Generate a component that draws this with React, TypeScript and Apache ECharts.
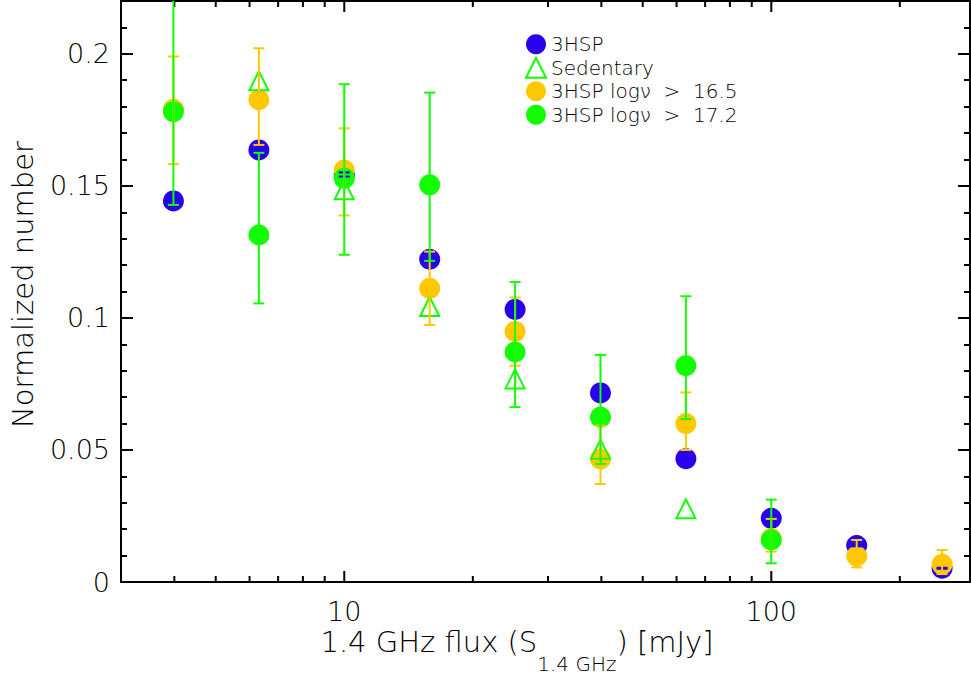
import React, { useEffect, useRef } from "react";
import * as echarts from "echarts";

// Bin centres (1.4 GHz flux, mJy)
const bins = [3.98, 6.31, 10, 15.85, 25.12, 39.81, 63.1, 100, 158.5, 251.2];

// 3HSP (blue)
const hsp = [0.1443, 0.1636, 0.1543, 0.1222, 0.1032, 0.0716, 0.0467, 0.0241, 0.0138, 0.0052];
const hspErr = [0.001, 0.001, 0.0008, 0.0008, 0.0007, 0.0006, 0.0005, 0.0004, 0.0003, 0.0002];

// Sedentary (green open triangles)
const sedentary = [null, 0.1898, 0.1485, 0.1043, 0.0769, 0.0503, 0.0277, null, null, null];

// 3HSP log nu > 16.5 (orange)
const hsp165 = [0.179, 0.1826, 0.156, 0.1112, 0.0949, 0.0466, 0.06, 0.0165, 0.0098, 0.0067];
const hsp165Hi = [0.199, 0.2021, 0.1718, 0.1251, 0.1077, 0.0592, 0.0718, 0.0239, 0.0159, 0.0121];
const hsp165Lo = [0.1582, 0.1655, 0.1388, 0.0973, 0.0819, 0.0371, 0.05, 0.0115, 0.0055, 0.003];

// 3HSP log nu > 17.2 (green)
const hsp172 = [0.1781, 0.1314, 0.1529, 0.1504, 0.0871, 0.0624, 0.0819, 0.0159, null, null];
const hsp172Hi = [0.222, 0.1625, 0.1885, 0.1853, 0.1136, 0.086, 0.1082, 0.0312, null, null];
const hsp172Lo = [0.1428, 0.1055, 0.1239, 0.1216, 0.0662, 0.0447, 0.0617, 0.0071, null, null];

// Axis ticks
const xMajorTicks = [10, 100];
const xMinorTicks = [4, 5, 6, 7, 8, 9, 20, 30, 40, 50, 60, 70, 80, 90, 200];
const yTicks = [0, 0.05, 0.1, 0.15, 0.2];

const names = ["3HSP", "Sedentary", "3HSP log\u03BD  >  16.5", "3HSP log\u03BD  >  17.2"];
const xTitleParts = ["1.4 GHz flux (S", "1.4 GHz", ") [mJy]"];

const BLUE = "#2800ee";
const ORANGE = "#ffc800";
const GREEN = "#11ff00";
const FONT = "'DejaVu Sans', sans-serif";
const FW = 300;

const X_MIN = 3;
const X_MAX = 292;
const Y_MIN = 0;
const Y_MAX = 0.22;

function pts(vals: (number | null)[]) {
  const out: number[][] = [];
  vals.forEach((v, i) => {
    if (v !== null) out.push([bins[i], v]);
  });
  return out;
}

function errs(lo: (number | null)[], hi: (number | null)[]) {
  const out: number[][] = [];
  lo.forEach((l, i) => {
    const h = hi[i];
    if (l !== null && h !== null) out.push([bins[i], l, h]);
  });
  return out;
}

function errRender(color: string) {
  return (params: any, api: any) => {
    const x = api.value(0);
    const lo = api.value(1);
    const hi = api.value(2);
    const hiC = Math.min(hi, Y_MAX);
    const p1 = api.coord([x, hiC]);
    const p2 = api.coord([x, lo]);
    const w = 5.5;
    const style = { stroke: color, lineWidth: 2 };
    const children: any[] = [
      { type: "line", shape: { x1: p1[0], y1: p1[1], x2: p2[0], y2: p2[1] }, style },
      { type: "line", shape: { x1: p2[0] - w, y1: p2[1], x2: p2[0] + w, y2: p2[1] }, style },
    ];
    if (hi <= Y_MAX) {
      children.push({ type: "line", shape: { x1: p1[0] - w, y1: p1[1], x2: p1[0] + w, y2: p1[1] }, style });
    }
    return { type: "group", children };
  };
}

function tickRender(params: any, api: any) {
  const x = api.value(0);
  const major = api.value(1) === 1;
  const len = major ? 11 : 6;
  const b = api.coord([x, Y_MIN]);
  const t = api.coord([x, Y_MAX]);
  const style = { stroke: "#000", lineWidth: 2 };
  return {
    type: "group",
    children: [
      { type: "line", shape: { x1: b[0], y1: b[1], x2: b[0], y2: b[1] - len }, style },
      { type: "line", shape: { x1: t[0], y1: t[1], x2: t[0], y2: t[1] + len }, style },
    ],
  };
}

function measure(text: string, size: number) {
  const c = document.createElement("canvas").getContext("2d");
  if (!c) return text.length * size * 0.6;
  c.font = `${FW} ${size}px ${FONT}`;
  return c.measureText(text).width;
}

export default function App() {
  const ref = useRef<HTMLDivElement>(null);
  useEffect(() => {
    if (!ref.current) return;
    const chart = echarts.init(ref.current, null, { renderer: "svg" });
    const axisLine = { show: true, onZero: false, lineStyle: { color: "#000", width: 2 } };
    const tickData = [
      ...xMajorTicks.map((v) => [v, 1]),
      ...xMinorTicks.map((v) => [v, 0]),
    ];

    // x-axis title with subscript, laid out from measured widths
    const MAIN = 29;
    const SUB = 20;
    const w1 = measure(xTitleParts[0], MAIN);
    const w2 = measure(xTitleParts[1], SUB);
    const w3 = measure(xTitleParts[2], MAIN);
    const cx = 517;
    const x0 = cx - (w1 + w2 + w3) / 2;
    const mainY = 642;
    const subY = 664;
    const tStyle = (text: string, size: number) => ({
      text,
      fill: "#000",
      font: `${FW} ${size}px ${FONT}`,
      verticalAlign: "middle",
      align: "left",
    });

    const option: any = {
      animation: false,
      backgroundColor: "#fff",
      grid: { left: 121, right: 1, top: 1, bottom: 97, containLabel: false, outerBoundsMode: "none" },
      graphic: [
        { type: "text", x: x0, y: mainY, style: tStyle(xTitleParts[0], MAIN), silent: true },
        { type: "text", x: x0 + w1, y: subY, style: tStyle(xTitleParts[1], SUB), silent: true },
        { type: "text", x: x0 + w1 + w2, y: mainY, style: tStyle(xTitleParts[2], MAIN), silent: true },
      ],
      legend: {
        orient: "vertical",
        left: 525,
        top: 32.5,
        padding: 0,
        itemWidth: 20,
        itemHeight: 20,
        itemGap: 0,
        selectedMode: false,
        data: names,
        textStyle: {
          fontSize: 20,
          lineHeight: 23.5,
          color: "#000",
          fontFamily: FONT,
          fontWeight: FW,
        },
      },
      xAxis: [
        {
          type: "log",
          logBase: 10,
          min: X_MIN,
          max: X_MAX,
          position: "bottom",
          axisLine,
          axisTick: { show: false },
          minorTick: { show: false },
          splitLine: { show: false },
          axisLabel: {
            color: "#000",
            fontSize: 27,
            fontFamily: FONT,
            fontWeight: FW,
            margin: 16,
            formatter: (v: number) => {
              const l = Math.log10(v);
              return Math.abs(l - Math.round(l)) < 1e-6 && xMajorTicks.includes(Math.round(v))
                ? String(Math.round(v))
                : "";
            },
          },
        },
        {
          type: "log",
          logBase: 10,
          min: X_MIN,
          max: X_MAX,
          position: "top",
          axisLine,
          axisTick: { show: false },
          axisLabel: { show: false },
          splitLine: { show: false },
        },
      ],
      yAxis: [
        {
          type: "value",
          min: Y_MIN,
          max: Y_MAX,
          interval: 0.05,
          position: "left",
          axisLine,
          axisTick: { show: true, inside: true, length: 12, lineStyle: { color: "#000", width: 2 } },
          minorTick: { show: true, splitNumber: 5, length: 6, lineStyle: { color: "#000", width: 2 } },
          splitLine: { show: false },
          axisLabel: {
            color: "#000",
            fontSize: 27,
            fontFamily: FONT,
            fontWeight: FW,
            margin: 11,
            showMaxLabel: false,
            formatter: (v: number) => (yTicks.some((t) => Math.abs(t - v) < 1e-9) ? String(+v.toFixed(2)) : ""),
          },
          name: "Normalized number",
          nameLocation: "middle",
          nameGap: 84,
          nameRotate: 90,
          nameTextStyle: {
            color: "#000",
            fontSize: 29,
            fontFamily: FONT,
            fontWeight: FW,
            padding: [0, 0, 0, 14],
          },
        },
        {
          type: "value",
          min: Y_MIN,
          max: Y_MAX,
          interval: 0.05,
          position: "right",
          axisLine,
          axisTick: { show: true, inside: true, length: 12, lineStyle: { color: "#000", width: 2 } },
          minorTick: { show: true, splitNumber: 5, length: 6, lineStyle: { color: "#000", width: 2 } },
          splitLine: { show: false },
          axisLabel: { show: false },
        },
      ],
      series: [
        {
          type: "custom",
          name: "xticks",
          renderItem: tickRender,
          data: tickData,
          silent: true,
          z: 1,
        },
        {
          type: "scatter",
          name: names[0],
          data: pts(hsp),
          symbol: "circle",
          symbolSize: 21,
          itemStyle: { color: BLUE, opacity: 1 },
          silent: true,
          z: 2,
        },
        {
          type: "scatter",
          name: names[2],
          data: pts(hsp165),
          symbol: "circle",
          symbolSize: 21,
          itemStyle: { color: ORANGE, opacity: 1 },
          silent: true,
          z: 3,
        },
        {
          type: "scatter",
          name: names[1],
          data: pts(sedentary),
          symbol: "triangle",
          symbolSize: [19, 19],
          itemStyle: { color: "rgba(255,255,255,0)", borderColor: GREEN, borderWidth: 2, opacity: 1 },
          silent: true,
          z: 4,
        },
        {
          type: "scatter",
          name: names[3],
          data: pts(hsp172),
          symbol: "circle",
          symbolSize: 21,
          itemStyle: { color: GREEN, opacity: 1 },
          silent: true,
          z: 5,
        },
        {
          type: "custom",
          name: "hspErr",
          renderItem: errRender(BLUE),
          data: errs(
            hsp.map((v, i) => v - hspErr[i]),
            hsp.map((v, i) => v + hspErr[i])
          ),
          silent: true,
          clip: true,
          z: 6,
        },
        {
          type: "custom",
          name: "hsp165Err",
          renderItem: errRender(ORANGE),
          data: errs(hsp165Lo, hsp165Hi),
          silent: true,
          clip: true,
          z: 7,
        },
        {
          type: "custom",
          name: "hsp172Err",
          renderItem: errRender(GREEN),
          data: errs(hsp172Lo, hsp172Hi),
          silent: true,
          clip: true,
          z: 8,
        },
      ],
    };
    chart.setOption(option);
    return () => chart.dispose();
  }, []);
  return (
    <div
      ref={ref}
      style={{ position: "fixed", left: 0, top: 0, width: 971, height: 679, background: "#fff" }}
    />
  );
}
